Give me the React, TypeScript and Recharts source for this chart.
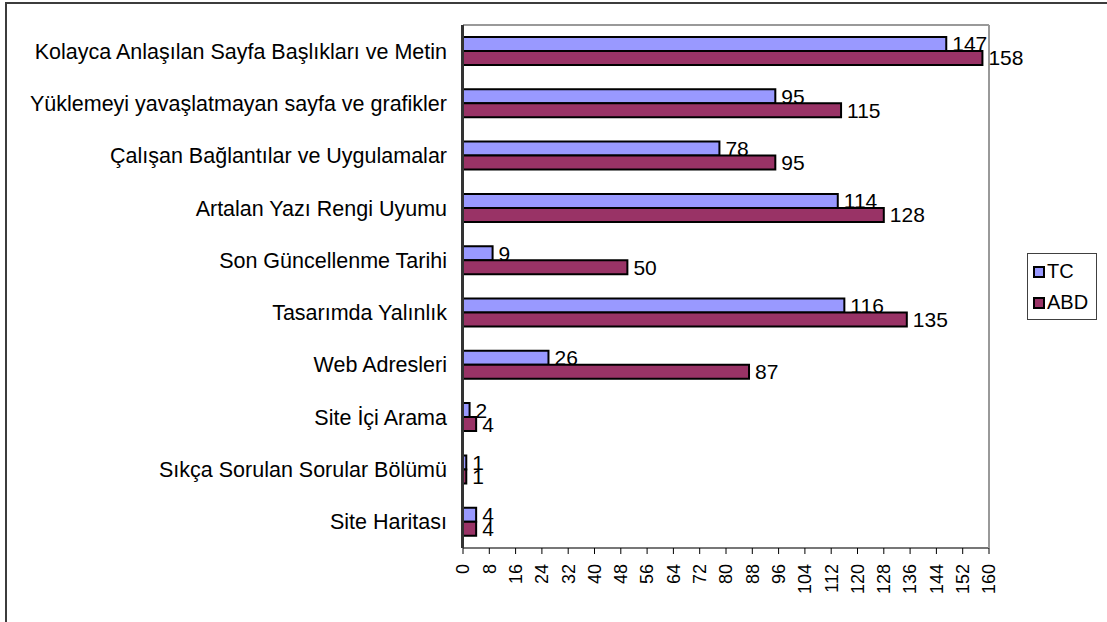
import { BarChart, Bar, XAxis, YAxis, LabelList, Legend } from 'recharts';

const categories = [
  'Kolayca Anlaşılan Sayfa Başlıkları ve Metin',
  'Yüklemeyi yavaşlatmayan sayfa ve grafikler',
  'Çalışan Bağlantılar ve Uygulamalar',
  'Artalan Yazı Rengi Uyumu',
  'Son Güncellenme Tarihi',
  'Tasarımda Yalınlık',
  'Web Adresleri',
  'Site İçi Arama',
  'Sıkça Sorulan Sorular Bölümü',
  'Site Haritası',
];

const seriesNames = ['TC', 'ABD'];
const tcValues = [147, 95, 78, 114, 9, 116, 26, 2, 1, 4];
const abdValues = [158, 115, 95, 128, 50, 135, 87, 4, 1, 4];

const xTicks = [0, 8, 16, 24, 32, 40, 48, 56, 64, 72, 80, 88, 96, 104, 112, 120, 128, 136, 144, 152, 160];
// category boundaries, used for the small tick marks on the left axis
const boundaryTicks = [0, 1, 2, 3, 4, 5, 6, 7, 8, 9, 10];

const data = categories.map((kategori, i) => ({
  kategori,
  tc: tcValues[i],
  abd: abdValues[i],
}));

const FONT = '"Liberation Sans", Arial, sans-serif';

function CategoryTick({ x, y, payload }: { x?: number; y?: number; payload?: { value: string } }) {
  return (
    <text x={x} y={y} dy="0.35em" textAnchor="end" fontSize={21.5} fill="#000" fontFamily={FONT}>
      {payload?.value}
    </text>
  );
}

function RotatedTick({ x, y, payload }: { x?: number; y?: number; payload?: { value: number } }) {
  return (
    <g transform={`translate(${x},${y})`}>
      <text transform="rotate(-90)" textAnchor="end" dy="0.35em" fontSize={18} fill="#000" fontFamily={FONT}>
        {payload?.value}
      </text>
    </g>
  );
}

interface LegendEntry {
  value: string;
  color: string;
}

function BoxLegend({ payload }: { payload?: LegendEntry[] }) {
  return (
    <div
      style={{
        border: '1px solid #404040',
        background: '#fff',
        width: 70,
        height: 67,
        boxSizing: 'border-box',
        padding: '2px 0 0 5px',
        fontFamily: FONT,
        fontSize: 20,
      }}
    >
      {(payload ?? []).map((p) => (
        <div key={p.value} style={{ display: 'flex', alignItems: 'center', height: 31 }}>
          <span
            style={{
              display: 'inline-block',
              width: 8,
              height: 8,
              border: '2px solid #000',
              background: p.color,
              marginRight: 2,
            }}
          />
          <span>{p.value}</span>
        </div>
      ))}
    </div>
  );
}

export default function App() {
  return (
    <div
      style={{
        position: 'fixed',
        left: 0,
        top: 0,
        width: 1107,
        height: 622,
        overflow: 'hidden',
        background: '#fff',
        fontFamily: FONT,
      }}
    >
      <div
        style={{
          position: 'absolute',
          left: 5,
          top: 2,
          width: 1102,
          height: 620,
          borderTop: '2px solid #3c3c3c',
          borderLeft: '2px solid #3c3c3c',
          boxSizing: 'border-box',
        }}
      />
      <BarChart
        width={1107}
        height={622}
        data={data}
        layout="vertical"
        barGap={0}
        margin={{ top: 24, right: 47, bottom: 0, left: 0 }}
      >
        <XAxis
          type="number"
          domain={[0, 160]}
          ticks={xTicks}
          interval={0}
          height={74}
          tick={<RotatedTick />}
          tickSize={6}
          tickMargin={10}
          axisLine={{ stroke: '#777', strokeWidth: 2 }}
          tickLine={{ stroke: '#000' }}
        />
        <XAxis
          xAxisId="top"
          orientation="top"
          type="number"
          domain={[0, 160]}
          height={1}
          tick={false}
          tickLine={false}
          axisLine={{ stroke: '#999', strokeWidth: 2 }}
        />
        <YAxis
          yAxisId="bounds"
          type="number"
          domain={[0, 10]}
          ticks={boundaryTicks}
          interval={0}
          width={1}
          tick={false}
          tickSize={6}
          tickLine={{ stroke: '#000' }}
          axisLine={{ stroke: '#333', strokeWidth: 2 }}
        />
        <YAxis
          yAxisId="cat"
          dataKey="kategori"
          type="category"
          width={462}
          axisLine={{ stroke: '#333', strokeWidth: 2 }}
          tickLine={false}
          tickSize={0}
          tickMargin={15}
          interval={0}
          tick={<CategoryTick />}
        />
        <YAxis
          yAxisId="right"
          orientation="right"
          type="number"
          domain={[0, 10]}
          width={1}
          tick={false}
          tickLine={false}
          axisLine={{ stroke: '#999', strokeWidth: 2 }}
        />
        <Legend
          layout="horizontal"
          verticalAlign="middle"
          align="right"
          itemSorter={(item: { value: string }) => seriesNames.indexOf(item.value)}
          content={<BoxLegend />}
          wrapperStyle={{ left: 1027, top: 253, width: 70, height: 67 }}
        />
        <Bar
          yAxisId="cat"
          dataKey="tc"
          name={seriesNames[0]}
          fill="#9999FF"
          stroke="#000"
          strokeWidth={2}
          barSize={14}
          isAnimationActive={false}
        >
          <LabelList dataKey="tc" position="right" offset={6} fill="#000" fontSize={21} fontFamily={FONT} />
        </Bar>
        <Bar
          yAxisId="cat"
          dataKey="abd"
          name={seriesNames[1]}
          fill="#993366"
          stroke="#000"
          strokeWidth={2}
          barSize={14}
          isAnimationActive={false}
        >
          <LabelList dataKey="abd" position="right" offset={6} fill="#000" fontSize={21} fontFamily={FONT} />
        </Bar>
      </BarChart>
    </div>
  );
}
